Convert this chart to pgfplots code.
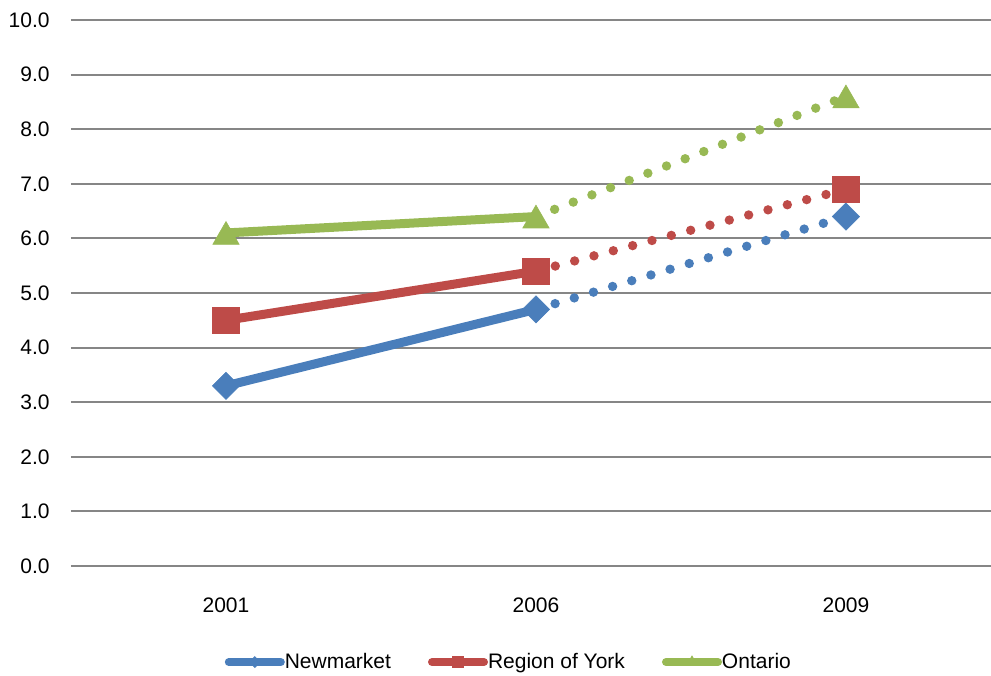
\documentclass[border=0pt]{standalone}
\usepackage{pgfplots}
\pgfplotsset{compat=1.18}
\usepackage{fontspec}
\setmainfont{Liberation Sans}

\definecolor{nmblue}{HTML}{4A7EBB}
\definecolor{yorkred}{HTML}{BE4B48}
\definecolor{ongreen}{HTML}{98B954}
\definecolor{gridgray}{HTML}{868686}

% Values by year (x: 0 = 2001, 1 = 2006, 2 = 2009)
\pgfplotstableread{
x  newmarket york ontario
0  3.3       4.5  6.1
1  4.7       5.4  6.4
2  6.4       6.9  8.6
}\ratedata

\tikzset{
  solidseg/.style={line width=4.5pt, line join=round, line cap=butt},
  dotseg/.style={line width=4.7pt, line cap=round, dash pattern=on 0pt off 10pt},
}

\begin{document}
\fontsize{10.5}{12}\selectfont
\begin{tikzpicture}
\begin{axis}[
  at={(0,0)}, anchor=south west,
  scale only axis,
  width=460pt, height=273pt,
  xmin=-0.5, xmax=2.468,
  ymin=0, ymax=10,
  xtick={0,1,2},
  xticklabels={2001,2006,2009},
  ytick={0,1,...,10},
  yticklabels={0.0,1.0,2.0,3.0,4.0,5.0,6.0,7.0,8.0,9.0,10.0},
  major tick length=0pt,
  axis line style={draw=none},
  ymajorgrids,
  grid style={gridgray, line width=1pt},
  tick label style={font=\fontsize{10.5}{12}\selectfont},
  yticklabel style={anchor=east, xshift=-7pt},
  xticklabel style={anchor=north, yshift=-12pt},
  clip=false,
  legend columns=3,
  legend style={
    at={(0.477,-0.176)}, anchor=center,
    draw=none, fill=none,
    font=\fontsize{10.5}{12}\selectfont,
    /tikz/every even column/.append style={column sep=16.5pt},
    inner sep=0pt,
  },
  legend cell align=left,
  legend image code/.code={%
    \draw[mark repeat=2, mark phase=2, line cap=round, #1]
      plot coordinates {(2pt,0pt) (15pt,0pt) (28pt,0pt)};%
  },
]
% legend entries
\addlegendimage{nmblue, line width=4pt, mark=square*, mark size=1.9pt,
  mark options={rotate=45, solid, line width=0.4pt}}
\addlegendentry{\hspace{-2pt}Newmarket}
\addlegendimage{yorkred, line width=4pt, mark=square*, mark size=2.6pt,
  mark options={solid, line width=0.4pt}}
\addlegendentry{\hspace{-2pt}Region of York}
\addlegendimage{ongreen, line width=4pt, mark=triangle*, mark size=3pt,
  mark options={solid, line width=0.4pt}}
\addlegendentry{\hspace{-2pt}Ontario}

% 2001-2006: solid segments
\addplot[nmblue, solidseg, forget plot, restrict x to domain=0:1]
  table[x=x, y=newmarket] {\ratedata};
\addplot[yorkred, solidseg, forget plot, restrict x to domain=0:1]
  table[x=x, y=york] {\ratedata};
\addplot[ongreen, solidseg, forget plot, restrict x to domain=0:1]
  table[x=x, y=ontario] {\ratedata};

% 2006-2009: dotted segments
\addplot[nmblue, dotseg, forget plot, restrict x to domain=1:2]
  table[x=x, y=newmarket] {\ratedata};
\addplot[yorkred, dotseg, forget plot, restrict x to domain=1:2]
  table[x=x, y=york] {\ratedata};
\addplot[ongreen, dotseg, forget plot, restrict x to domain=1:2]
  table[x=x, y=ontario] {\ratedata};

% markers on every year
\addplot[only marks, forget plot, mark=square*, mark size=4.8pt,
  mark options={rotate=45, draw=nmblue, fill=nmblue, line width=0.3pt}]
  table[x=x, y=newmarket] {\ratedata};
\addplot[only marks, forget plot, mark=square*, mark size=6.6pt,
  mark options={draw=yorkred, fill=yorkred, line width=0.3pt}]
  table[x=x, y=york] {\ratedata};
\addplot[only marks, forget plot, mark=triangle*, mark size=7.6pt,
  mark options={yshift=-1.9pt, draw=ongreen, fill=ongreen, line width=0.3pt}]
  table[x=x, y=ontario] {\ratedata};
\end{axis}
\pgfresetboundingbox
\path (-35.5pt,-54.5pt) rectangle (460pt,283pt);
\end{tikzpicture}
\end{document}
